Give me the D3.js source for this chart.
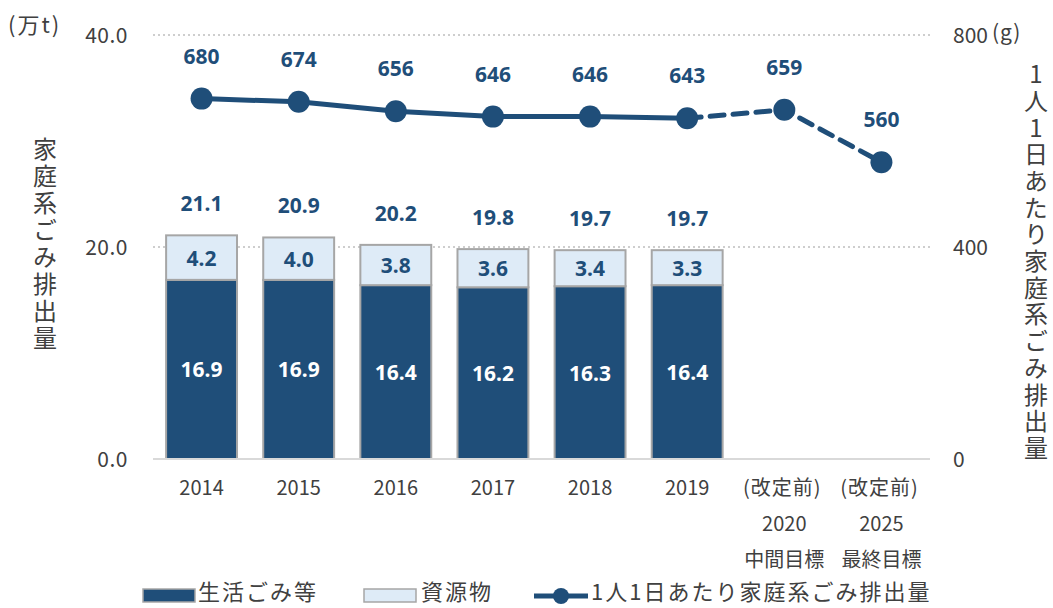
<!DOCTYPE html>
<html>
<head>
<meta charset="utf-8">
<script src="https://cdn.jsdelivr.net/npm/d3@7"></script>
<style>
  body { margin: 0; background: #fff; }
  svg { font-family: "Noto Sans CJK JP", "Noto Sans", sans-serif; }
</style>
</head>
<body>
<div id="chart"></div>
<script>
// data
const categories = ['2014', '2015', '2016', '2017', '2018', '2019', '2020', '2025'];
const catLabels = [['2014'], ['2015'], ['2016'], ['2017'], ['2018'], ['2019'],
  ['(改定前)', '2020', '中間目標'], ['(改定前)', '2025', '最終目標']];
const lifeWaste = [16.9, 16.9, 16.4, 16.2, 16.3, 16.4, null, null];
const resources = [4.2, 4.0, 3.8, 3.6, 3.4, 3.3, null, null];
const totals = [21.1, 20.9, 20.2, 19.8, 19.7, 19.7, null, null];
const perCapita = [680, 674, 656, 646, 646, 643, 659, 560];
const leftTicks = [0, 20, 40];
const rightTicks = [0, 400, 800];

const cfg = {
  width: 1053,
  height: 608,
  left: 153,
  right: 930,
  top: 35,
  bottom: 459,
  dark: '#1f4e79',
  light: '#deebf7',
  barStroke: '#a6a6a6',
  text: '#404040',
};

const svg = d3.select('#chart').append('svg')
  .attr('width', cfg.width).attr('height', cfg.height);

const x = d3.scaleBand().domain(categories).range([cfg.left, cfg.right]).paddingInner(0.27).paddingOuter(0.135);
const yL = d3.scaleLinear().domain([0, 40]).range([cfg.bottom, cfg.top]);
const yR = d3.scaleLinear().domain([0, 800]).range([cfg.bottom, cfg.top]);
const cx = c => x(c) + x.bandwidth() / 2;

// gridlines
svg.append('g').selectAll('line')
  .data(leftTicks.filter(t => t > 0)).enter().append('line')
  .attr('x1', cfg.left).attr('x2', cfg.right)
  .attr('y1', d => yL(d)).attr('y2', d => yL(d))
  .style('stroke', '#bfbfbf').style('stroke-width', 1.5)
  .style('stroke-dasharray', '2,3');

// left ticks
svg.append('g').selectAll('text')
  .data(leftTicks).enter().append('text')
  .attr('x', 128).attr('y', d => yL(d) + 8)
  .attr('text-anchor', 'end')
  .style('font-size', '21px').style('letter-spacing', '0.5px').style('fill', cfg.text)
  .text(d => d.toFixed(1));

// right ticks
svg.append('g').selectAll('text')
  .data(rightTicks).enter().append('text')
  .attr('x', 953).attr('y', d => yR(d) + 8)
  .style('font-size', '21px').style('fill', cfg.text)
  .text(d => d);
svg.append('text').attr('x', 992).attr('y', yR(800) + 5)
  .style('font-size', '21px').style('letter-spacing', '1px').style('fill', cfg.text).text('(g)');
svg.append('text').attr('x', 8).attr('y', 33)
  .style('font-size', '22px').style('letter-spacing', '2px').style('fill', cfg.text).text('(万t)');

// axis titles (vertical)
function vText(str, xPos, yStart, spacing) {
  svg.append('text').attr('x', xPos).attr('y', yStart)
    .style('writing-mode', 'vertical-rl')
    .style('text-orientation', 'upright')
    .style('letter-spacing', `${spacing}px`)
    .style('font-size', '24px').style('fill', cfg.text).text(str);
}
vText('家庭系ごみ排出量', 45, 137, 3);
vText('1人1日あたり家庭系ごみ排出量', 1036, 62, 2.7);

// stacked bars
const barData = categories.map((c, i) => ({ c, a: lifeWaste[i], b: resources[i], t: totals[i] }))
  .filter(d => d.a !== null);
const bars = svg.append('g');
bars.selectAll('rect.dark').data(barData).enter().append('rect')
  .attr('x', d => x(d.c)).attr('width', x.bandwidth())
  .attr('y', d => yL(d.a)).attr('height', d => yL(0) - yL(d.a))
  .style('fill', cfg.dark).style('stroke', cfg.barStroke).style('stroke-width', 2);
bars.selectAll('rect.light').data(barData).enter().append('rect')
  .attr('x', d => x(d.c)).attr('width', x.bandwidth())
  .attr('y', d => yL(d.a + d.b)).attr('height', d => yL(d.a) - yL(d.a + d.b))
  .style('fill', cfg.light).style('stroke', cfg.barStroke).style('stroke-width', 2);

// baseline
svg.append('line').attr('x1', cfg.left).attr('x2', cfg.right)
  .attr('y1', yL(0)).attr('y2', yL(0))
  .style('stroke', '#d9d9d9').style('stroke-width', 2);

// bar labels
const numFont = '"Noto Sans", "Open Sans", sans-serif';
bars.selectAll('text.a').data(barData).enter().append('text')
  .attr('x', d => cx(d.c)).attr('y', d => yL(d.a / 2) + 8)
  .attr('text-anchor', 'middle')
  .style('font-family', numFont).style('font-weight', 'bold').style('font-size', '21px')
  .style('fill', '#fff').text(d => d.a.toFixed(1));
bars.selectAll('text.b').data(barData).enter().append('text')
  .attr('x', d => cx(d.c)).attr('y', d => yL(d.a + d.b / 2) + 8)
  .attr('text-anchor', 'middle')
  .style('font-family', numFont).style('font-weight', 'bold').style('font-size', '21px')
  .style('fill', cfg.dark).text(d => d.b.toFixed(1));
bars.selectAll('text.t').data(barData).enter().append('text')
  .attr('x', d => cx(d.c)).attr('y', d => yL(d.t) - 24)
  .attr('text-anchor', 'middle')
  .style('font-family', numFont).style('font-weight', 'bold').style('font-size', '21px')
  .style('fill', cfg.dark).text(d => d.t.toFixed(1));

// per-capita line
const pts = categories.map((c, i) => ({ c, v: perCapita[i] }));
const line = d3.line().x(d => cx(d.c)).y(d => yR(d.v));
svg.append('path').datum(pts.slice(0, 6)).attr('d', line)
  .style('fill', 'none').style('stroke', cfg.dark).style('stroke-width', 5);
svg.append('path').datum(pts.slice(5)).attr('d', line)
  .style('fill', 'none').style('stroke', cfg.dark).style('stroke-width', 5)
  .style('stroke-dasharray', '14,9').style('stroke-linecap', 'round');
svg.append('g').selectAll('circle').data(pts).enter().append('circle')
  .attr('cx', d => cx(d.c)).attr('cy', d => yR(d.v)).attr('r', 11)
  .style('fill', cfg.dark);
svg.append('g').selectAll('text').data(pts).enter().append('text')
  .attr('x', d => cx(d.c)).attr('y', d => yR(d.v) - 35)
  .attr('text-anchor', 'middle')
  .style('font-family', numFont).style('font-weight', 'bold').style('font-size', '21px')
  .style('fill', cfg.dark).text(d => d.v);

// x labels
const xl = svg.append('g');
categories.forEach((c, i) => {
  catLabels[i].forEach((s, j) => {
    xl.append('text').attr('x', cx(c) + (j === 0 && catLabels[i].length > 1 ? -2 : 0))
      .attr('y', 495 + j * 36)
      .attr('text-anchor', 'middle')
      .style('font-size', '20px').style('fill', cfg.text)
      .style('letter-spacing', j === 0 && catLabels[i].length > 1 ? '1px' : '0px')
      .text(s);
  });
});

// legend
const lg = svg.append('g');
lg.append('rect').attr('x', 143).attr('y', 589).attr('width', 52).attr('height', 13)
  .style('fill', cfg.dark).style('stroke', cfg.barStroke).style('stroke-width', 1.5);
lg.append('text').attr('x', 198).attr('y', 600).style('font-size', '22px').style('letter-spacing', '2px')
  .style('fill', cfg.text).text('生活ごみ等');
lg.append('rect').attr('x', 364).attr('y', 589).attr('width', 52).attr('height', 13)
  .style('fill', cfg.light).style('stroke', cfg.barStroke).style('stroke-width', 1.5);
lg.append('text').attr('x', 421).attr('y', 600).style('font-size', '22px').style('letter-spacing', '2px')
  .style('fill', cfg.text).text('資源物');
lg.append('line').attr('x1', 534).attr('x2', 588).attr('y1', 596).attr('y2', 596)
  .style('stroke', cfg.dark).style('stroke-width', 5);
lg.append('circle').attr('cx', 561).attr('cy', 596).attr('r', 8).style('fill', cfg.dark);
lg.append('text').attr('x', 591).attr('y', 600).style('font-size', '22px').style('letter-spacing', '2px')
  .style('fill', cfg.text).text('1人1日あたり家庭系ごみ排出量');
</script>
</body>
</html>
